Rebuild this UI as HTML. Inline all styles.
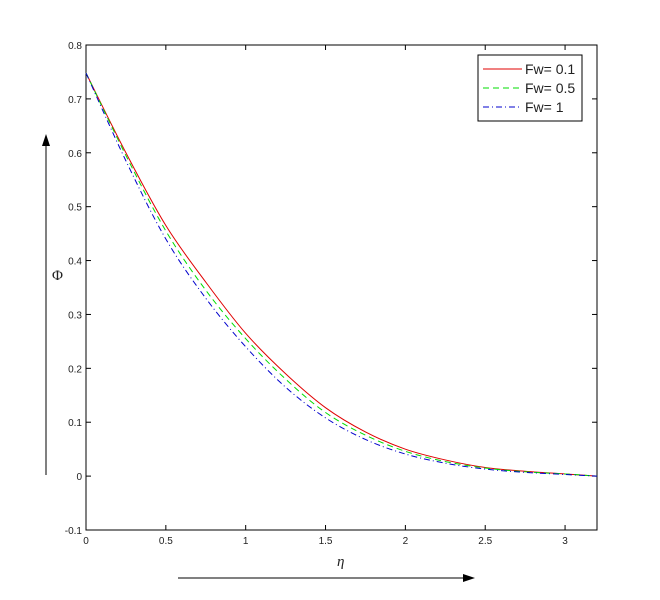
<!DOCTYPE html>
<html><head><meta charset="utf-8"><style>
body{margin:0;background:#fff;}
svg text{font-family:"Liberation Sans",sans-serif;font-size:10px;fill:#222;}
</style></head><body>
<svg id="chart" width="660" height="595" xmlns="http://www.w3.org/2000/svg">
<rect width="660" height="595" fill="#fff"/>
<g id="axes"></g>
<g id="series"></g>
<g>
<rect x="478" y="55" width="104" height="66" fill="#fff" stroke="#000" stroke-width="1"/>
<line x1="483" y1="69" x2="522" y2="69" stroke="#e00000" stroke-width="1"/>
<text x="525" y="74" style="font-size:14px">Fw= 0.1</text>
<line x1="483" y1="88" x2="522" y2="88" stroke="#00dd00" stroke-width="1" stroke-dasharray="6,4"/>
<text x="525" y="93" style="font-size:14px">Fw= 0.5</text>
<line x1="483" y1="107" x2="522" y2="107" stroke="#0000cc" stroke-width="1" stroke-dasharray="6,3,1,3"/>
<text x="525" y="112" style="font-size:14px">Fw= 1</text>
</g>
<text x="52" y="280" style="font-size:15px;font-family:'Liberation Serif',serif">Φ</text>
<text x="337" y="566" style="font-size:15px;font-family:'Liberation Serif',serif;font-style:italic">η</text>
<g>
<line x1="46" y1="475" x2="46" y2="140" stroke="#000" stroke-width="1"/>
<polygon points="46,134 42,146 50,146" fill="#000"/>
</g>
<g>
<line x1="178" y1="578" x2="468" y2="578" stroke="#000" stroke-width="1"/>
<polygon points="475,578 463,574 463,582" fill="#000"/>
</g>
</svg>
<script>
const xs = [0,0.25,0.5,0.75,1,1.25,1.5,1.75,2,2.25,2.5,2.75,3,3.2];
const fw01 = [0.748,0.600,0.465,0.360,0.265,0.190,0.127,0.082,0.050,0.030,0.016,0.009,0.004,0.000];
const fw05 = [0.748,0.595,0.455,0.345,0.255,0.180,0.118,0.076,0.046,0.027,0.015,0.008,0.004,0.000];
const fw1 = [0.748,0.585,0.440,0.330,0.240,0.165,0.108,0.068,0.041,0.024,0.013,0.007,0.003,0.000];
const xTicks = [0,0.5,1,1.5,2,2.5,3];
const xTickLabels = ["0","0.5","1","1.5","2","2.5","3"];
const yTicks = [-0.1,0,0.1,0.2,0.3,0.4,0.5,0.6,0.7,0.8];
const yTickLabels = ["-0.1","0","0.1","0.2","0.3","0.4","0.5","0.6","0.7","0.8"];

const L=86,R=597,T=45,B=530;
const X=v=>L+(v-0)/(3.2-0)*(R-L);
const Y=v=>B-(v+0.1)/(0.9)*(B-T);
const NS="http://www.w3.org/2000/svg";
function mk(tag,attrs,parent){const e=document.createElementNS(NS,tag);for(const k in attrs)e.setAttribute(k,attrs[k]);parent.appendChild(e);return e;}
const ax=document.getElementById('axes');
const frame=mk('rect',{x:L,y:T,width:R-L,height:B-T,fill:'none',stroke:'#000','stroke-width':1},ax);


xTicks.forEach((t,i)=>{
 const x=X(t);
 mk('line',{x1:x,y1:B,x2:x,y2:B-5,stroke:'#000'},ax);
 mk('line',{x1:x,y1:T,x2:x,y2:T+5,stroke:'#000'},ax);
 const tx=mk('text',{x:x,y:B+14,'text-anchor':'middle'},ax);
 tx.textContent=xTickLabels[i];
 
 
});
yTicks.forEach((t,i)=>{
 const y=Y(t);
 mk('line',{x1:L,y1:y,x2:L+5,y2:y,stroke:'#000'},ax);
 mk('line',{x1:R,y1:y,x2:R-5,y2:y,stroke:'#000'},ax);
 const tx=mk('text',{x:L-4,y:y+4,'text-anchor':'end'},ax);
 tx.textContent=yTickLabels[i];
 
 
});
const sg=document.getElementById('series');
function path(vals){
 const p=xs.map((x,i)=>[X(x),Y(vals[i])]);
 let d='M'+p[0][0]+','+p[0][1];
 for(let i=0;i<p.length-1;i++){
  const p0=p[Math.max(0,i-1)],p1=p[i],p2=p[i+1],p3=p[Math.min(p.length-1,i+2)];
  const c1=[p1[0]+(p2[0]-p0[0])/6,p1[1]+(p2[1]-p0[1])/6];
  const c2=[p2[0]-(p3[0]-p1[0])/6,p2[1]-(p3[1]-p1[1])/6];
  d+=' C'+c1+' '+c2+' '+p2;
 }
 return d;
}
const s1=mk('path',{d:path(fw01),fill:'none',stroke:'#e00000','stroke-width':1},sg);


const s2=mk('path',{d:path(fw05),fill:'none',stroke:'#00dd00','stroke-width':1,'stroke-dasharray':'6,4'},sg);


const s3=mk('path',{d:path(fw1),fill:'none',stroke:'#0000cc','stroke-width':1,'stroke-dasharray':'6,3,1,3'},sg);


</script>
</body></html>
